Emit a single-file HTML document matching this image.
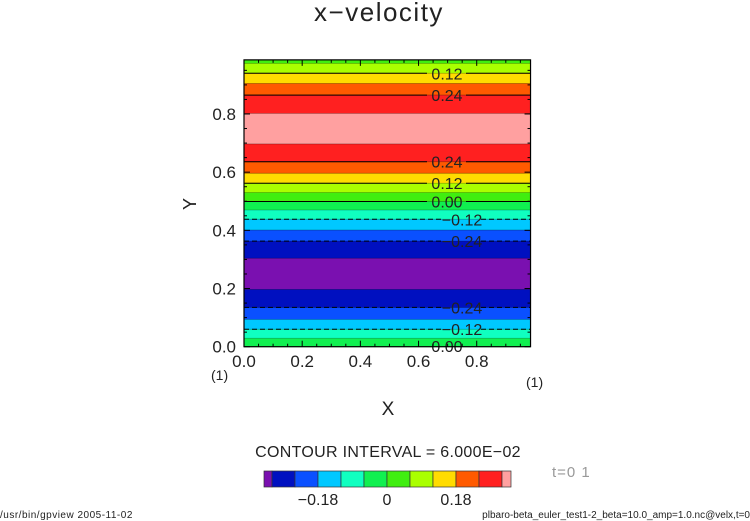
<!DOCTYPE html>
<html><head><meta charset="utf-8">
<style>
body{margin:0;background:#fff;width:750px;height:521px;overflow:hidden}
svg{display:block}
text{font-family:"Liberation Sans",sans-serif;fill:#222}
</style></head>
<body>
<svg id="c" width="750" height="521"></svg>
<script>
// band boundaries (y, data units) from top to bottom and level index of each band
const bandTops = [0.986,0.974,0.940,0.905,0.865,0.802,0.697,0.636,0.596,0.562,0.530,0.499,0.470,0.438,0.401,0.363,0.304,0.197,0.135,0.094,0.060,0.029];
const bandBottoms = [0.974,0.940,0.905,0.865,0.802,0.697,0.636,0.596,0.562,0.530,0.499,0.470,0.438,0.401,0.363,0.304,0.197,0.135,0.094,0.060,0.029,0.0];
const bandBins = [6,7,8,9,10,11,10,9,8,7,6,5,4,3,2,1,0,1,2,3,4,5];
// contour lines: y position and level value
const lineYs = [0.940,0.865,0.636,0.562,0.499,0.438,0.363,0.135,0.060];
const lineLevels = [0.12,0.24,0.24,0.12,0.00,-0.12,-0.24,-0.24,-0.12];
const binColors = ["#7a10b0","#0010c0","#0a50ff","#00c8ff","#10ffc0","#10f050","#40ee10","#aaff00","#ffdc00","#ff5a00","#ff2020","#ffa0a0"];
const xTicks = [0.0,0.2,0.4,0.6,0.8];
const yTicks = [0.0,0.2,0.4,0.6,0.8];
const cbTicks = [-0.18,0,0.18];
const cbTickLabels = ["\u22120.18","0","0.18"];

const NS="http://www.w3.org/2000/svg";
const svg=document.getElementById('c');
function mk(tag,attrs,parent){const e=document.createElementNS(NS,tag);for(const k in attrs)e.setAttribute(k,attrs[k]);(parent||svg).appendChild(e);return e;}
const X0=244,Y0=346.7,S=290.9;
const sx=v=>X0+v*S, sy=v=>Y0-v*S;
const xMax=0.985, yMax=0.986;

for(let i=0;i<bandBins.length;i++){
  const r=mk('rect',{x:sx(0),y:sy(bandTops[i]),width:sx(xMax)-sx(0),height:sy(bandBottoms[i])-sy(bandTops[i])+0.5,fill:binColors[bandBins[i]]});
  
  
}
for(let i=1;i<bandTops.length;i++){
  const yy=sy(bandTops[i]);
  const l=mk('line',{x1:sx(0),x2:sx(xMax),y1:yy,y2:yy,stroke:'#000','stroke-opacity':0.3,'stroke-width':0.8});
  
  
}
for(let i=0;i<lineYs.length;i++){
  const yy=sy(lineYs[i]);const neg=lineLevels[i]<0;
  const cx=neg?462:447;
  const segs=[[sx(0),cx-20],[cx+19,sx(xMax)]];
  segs.forEach(s=>{
    const l=mk('line',{x1:s[0],x2:s[1],y1:yy,y2:yy,stroke:'#000','stroke-width':1,'stroke-dasharray':neg?'5,3':'none'});
    
    
  });
  const t=mk('text',{x:cx,y:yy+6,'font-size':16,'text-anchor':'middle'});
  t.textContent=(neg?'\u2212':'')+Math.abs(lineLevels[i]).toFixed(2);
  
  
}
{const t=mk('text',{x:447,y:352,'font-size':16,'text-anchor':'middle'});t.textContent='0.00';
}
const fr=mk('rect',{x:sx(0),y:sy(yMax),width:sx(xMax)-sx(0),height:sy(0)-sy(yMax),fill:'none',stroke:'#000','stroke-width':1.2});

for(let v=0;v<=0.981;v+=0.05){
  const big=Math.abs(v*5-Math.round(v*5))<1e-6, len=big?6:3;
  mk('line',{x1:sx(v),x2:sx(v),y1:Y0,y2:Y0-len,stroke:'#000'});
  mk('line',{x1:sx(v),x2:sx(v),y1:sy(yMax),y2:sy(yMax)+len,stroke:'#000'});
  mk('line',{x1:X0,x2:X0+len,y1:sy(v),y2:sy(v),stroke:'#000'});
  mk('line',{x1:sx(xMax),x2:sx(xMax)-len,y1:sy(v),y2:sy(v),stroke:'#000'});
}
xTicks.forEach(v=>{const t=mk('text',{x:sx(v),y:367,'font-size':17,'text-anchor':'middle'});t.textContent=v.toFixed(1);
});
yTicks.forEach(v=>{const t=mk('text',{x:236,y:sy(v)+6,'font-size':17,'text-anchor':'end'});t.textContent=v.toFixed(1);
});
const CBW=23,CBY=471,CBH=16;
const cbx=v=>387+v/0.06*CBW;
for(let b=0;b<binColors.length;b++){
  let x1=cbx(-0.36+b*0.06),x2=cbx(-0.30+b*0.06);
  if(b==0)x1=264; if(b==binColors.length-1)x2=511;
  const r=mk('rect',{x:x1,y:CBY,width:x2-x1,height:CBH,fill:binColors[b],stroke:'#333','stroke-width':0.7});
  
}
cbTicks.forEach((v,i)=>{const t=mk('text',{x:cbx(v),y:505,'font-size':16,'text-anchor':'middle'});t.textContent=cbTickLabels[i];
});
</script>
<svg width="750" height="521" style="position:absolute;left:0;top:0">
<text x="379" y="21" font-size="26" text-anchor="middle" letter-spacing="1.5">x&#8722;velocity</text>
<text x="196" y="204" font-size="18" text-anchor="middle" transform="rotate(-90 196 204)">Y</text>
<text x="388" y="415" font-size="19" text-anchor="middle">X</text>
<text x="211" y="380" font-size="14">(1)</text>
<text x="526" y="387" font-size="14">(1)</text>
<text x="388" y="457" font-size="16" text-anchor="middle" letter-spacing="0.3">CONTOUR INTERVAL = 6.000E&#8722;02</text>
<text x="552" y="477" font-size="15" letter-spacing="1" style="fill:#999">t=0 1</text>
<text x="0" y="518" font-size="10" letter-spacing="0.5">/usr/bin/gpview  2005-11-02</text>
<text x="750" y="518" font-size="10" text-anchor="end">plbaro-beta_euler_test1-2_beta=10.0_amp=1.0.nc@velx,t=0</text>
</svg>
</body></html>
